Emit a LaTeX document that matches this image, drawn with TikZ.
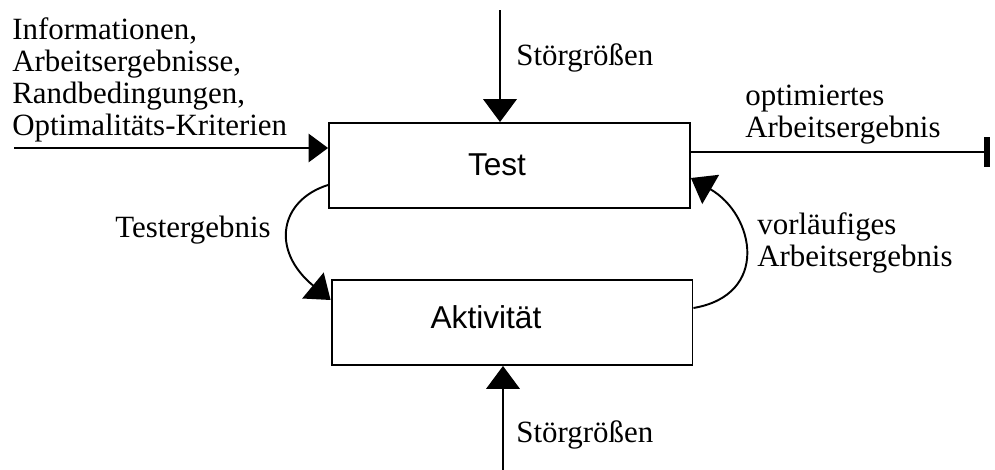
\documentclass[tikz,border=0pt]{standalone}
\usepackage{fontspec}
\setmainfont{Liberation Serif}
\setsansfont{Liberation Sans}
\usepackage{xcolor}
\usetikzlibrary{arrows.meta}

\begin{document}
\begin{tikzpicture}[x=0.02cm, y=-0.02cm,
    boite/.style={draw, line width=1.1pt, minimum width=7.22cm, minimum height=1.7cm, inner sep=0},
    texteboite/.style={font=\sffamily\fontsize{18}{20}\selectfont, inner sep=0},
    etiquette/.style={font=\fontsize{17.6}{18.1}\selectfont, align=left, inner sep=0},
    fleche/.style={line width=1.1pt, -{Triangle[length=13pt, width=19pt]}}]

    \useasboundingbox (0,0) rectangle (995,470);

    % Les deux boîtes
    \node[boite] (test) at (509.5,165.5) {};
    \node[boite] (akt) at (512,322.5) {};
    \node[texteboite, anchor=base] (testtxt) at (497,175) {Test};
    \node[texteboite, anchor=base] (akttxt) at (486,328) {Aktivität};

    % Extrémités libres des flèches
    \coordinate (entree) at (14,148);  % entrée à gauche
    \coordinate (haut) at (500,10);    % perturbation en haut
    \coordinate (bas) at (503,470);    % perturbation en bas
    \coordinate (sortie) at (990,152); % sortie à droite

    % --- Flèches droites ---
    \draw[fleche, -{Triangle[length=11pt, width=16pt]}] (entree) -- (entree -| test.west);
    \draw[fleche] (haut) -- (haut |- test.north);
    \draw[fleche] (bas) -- (bas |- akt.south);
    \draw[line width=1.1pt, -{Bar[width=17pt, line width=3.5pt]}] (sortie -| test.east) -- (sortie);

    % --- Boucle Test / Aktivität ---
    \draw[fleche] (test.west |- 0,185) .. controls (280,200) and (270,250) .. (akt.west |- 0,300);
    \draw[fleche] (akt.east |- 0,308) .. controls (770,295) and (755,215) .. (test.east |- 0,178);

    % --- Textes (base = dernière ligne) ---
    \node[etiquette, anchor=base west] (entreetxt) at (12,135) {Informationen,\\Arbeitsergebnisse,\\Randbedingungen,\\Optimalitäts-Kriterien};
    \node[etiquette, anchor=base west] (stoerhaut) at (516,65) {Störgrößen};
    \node[etiquette, anchor=base west] (stoerbas) at (516,442) {Störgrößen};
    \node[etiquette, anchor=base west] (testres) at (115,237) {Testergebnis};
    \node[etiquette, anchor=base west] (optres) at (745,137) {optimiertes\\Arbeitsergebnis};
    \node[etiquette, anchor=base west] (vorres) at (757,266) {vorläufiges\\Arbeitsergebnis};

\end{tikzpicture}
\end{document}
